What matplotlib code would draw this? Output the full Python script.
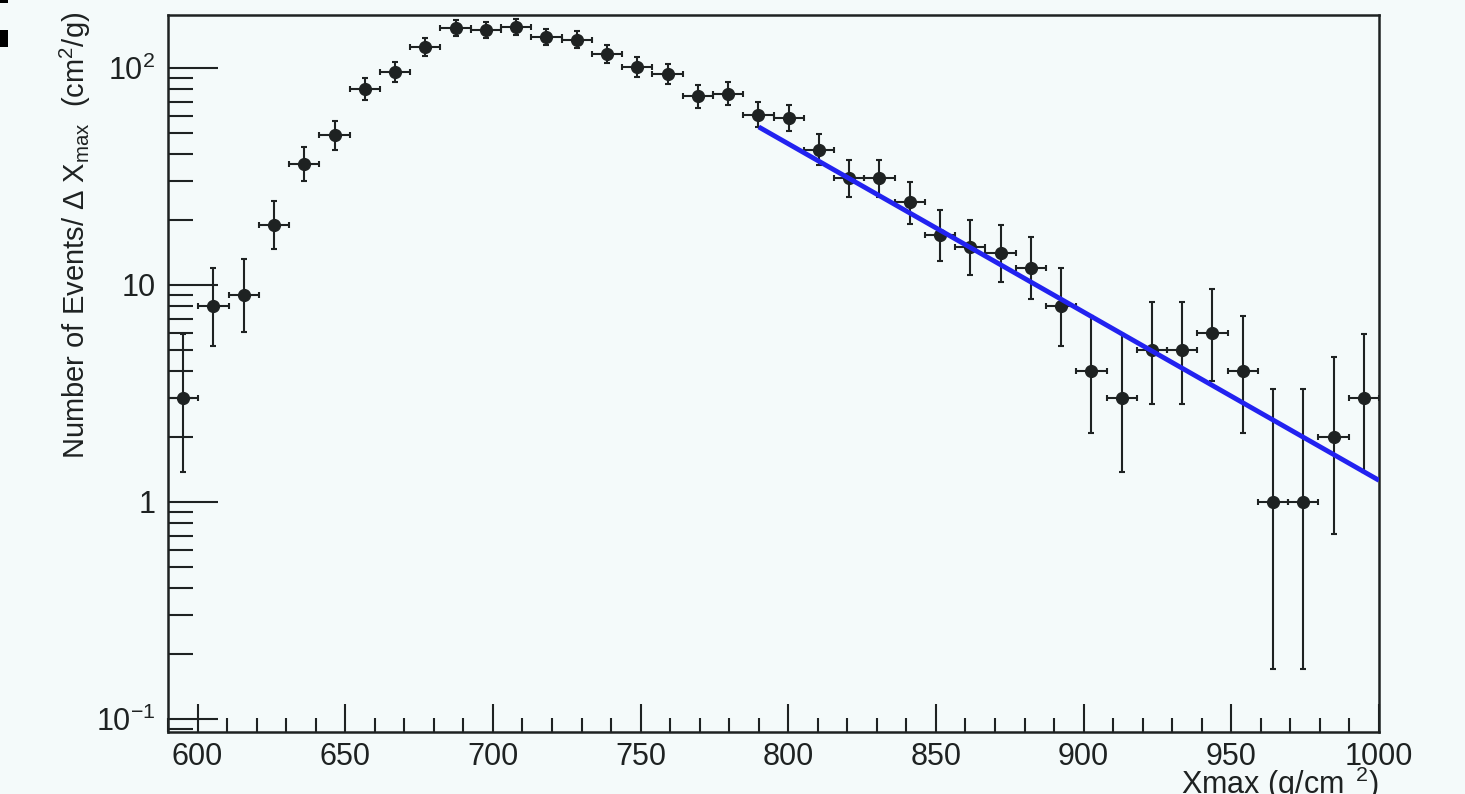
import matplotlib
matplotlib.use("Agg")
import matplotlib.pyplot as plt
from matplotlib.ticker import FixedLocator, FixedFormatter, MultipleLocator, NullFormatter
from matplotlib.patches import Rectangle
import numpy as np

plt.rcParams['font.family'] = ['Liberation Sans', 'DejaVu Sans']
plt.rcParams['mathtext.fontset'] = 'custom'
plt.rcParams['mathtext.rm'] = 'Liberation Sans'
plt.rcParams['mathtext.it'] = 'Liberation Sans:italic'
plt.rcParams['mathtext.sf'] = 'Liberation Sans'

# histogram: 40 bins from 590 to 1000 g/cm2
x_min, x_max, n_bins = 590.0, 1000.0, 40
counts = [3, 8, 9, 19, 36, 49, 80, 96, 125, 153,
          150, 154, 139, 135, 116, 101, 94, 74, 76, 61,
          59, 42, 31, 31, 24, 17, 15, 14, 12, 8,
          4, 3, 5, 5, 6, 4, 1, 1, 2, 3]
# asymmetric (Poisson) interval edges as drawn
band_lo = [1.37, 5.23, 6.06, 14.67, 30.02, 42.02, 71.07, 86.19, 113.83, 140.64,
           137.76, 141.60, 127.22, 123.39, 105.24, 90.96, 84.32, 65.41, 67.30, 53.21,
           51.33, 35.54, 25.45, 25.45, 19.13, 12.91, 11.16, 10.29, 8.58, 5.23,
           2.09, 1.37, 2.84, 2.84, 3.62, 2.09, 0.17, 0.17, 0.71, 1.37]
band_hi = [5.92, 11.94, 13.11, 24.44, 43.06, 57.05, 89.99, 106.84, 137.21, 166.40,
           163.28, 167.44, 151.82, 147.65, 127.81, 112.09, 104.73, 83.65, 85.76, 69.86,
           67.73, 49.54, 37.63, 37.63, 29.97, 22.21, 19.97, 18.84, 16.57, 11.94,
           7.16, 5.92, 8.38, 8.38, 9.58, 7.16, 3.30, 3.30, 4.64, 5.92]

# exponential tail fit
fit_start, fit_end = 790.0, 1000.0
fit_norm = 53.5      # value at fit_start
fit_lambda = 56.0    # g/cm2

y_ticks = [0.1, 1, 10, 100]
y_tick_labels = [r'$\mathregular{10^{-1}}$', '1', '10', r'$\mathregular{10^{2}}$']

bg = '#f4fafa'
ink = '#1e2222'

fig = plt.figure(figsize=(14.65, 7.94), dpi=100, facecolor=bg)
ax = fig.add_axes([168/1465, 62/794, 1211/1465, 717/794], facecolor=bg)

width = (x_max - x_min) / n_bins
centers = x_min + width * (np.arange(n_bins) + 0.5)
cnt = np.array(counts, dtype=float)
yerr = [cnt - np.array(band_lo), np.array(band_hi) - cnt]

ax.errorbar(centers, cnt, xerr=width / 2, yerr=yerr, fmt='o', color=ink,
            ms=8.5, elinewidth=1.5, capsize=2.2, capthick=1.5, zorder=3)

xf = np.linspace(fit_start, fit_end, 200)
ax.plot(xf, fit_norm * np.exp(-(xf - fit_start) / fit_lambda),
        color='#2222f0', lw=3.5, zorder=4, solid_capstyle='butt')

ax.set_yscale('log')
ax.set_xlim(x_min, x_max)
ax.set_ylim(0.0871, 175.5)

ax.xaxis.set_major_locator(MultipleLocator(50))
ax.xaxis.set_minor_locator(MultipleLocator(10))
ax.yaxis.set_major_locator(FixedLocator(y_ticks))
ax.yaxis.set_major_formatter(FixedFormatter(y_tick_labels))
minors = [m * d for d in [0.01, 0.1, 1, 10, 100] for m in range(2, 10)]
ax.yaxis.set_minor_locator(FixedLocator(minors))
ax.yaxis.set_minor_formatter(NullFormatter())

ax.tick_params(axis='both', which='both', direction='in', colors=ink,
               top=False, right=False, labelsize=22, width=1.5)
ax.tick_params(axis='x', which='major', length=20, pad=7)
ax.tick_params(axis='x', which='minor', length=10)
ax.tick_params(axis='y', which='major', length=36, pad=9)
ax.tick_params(axis='y', which='minor', length=18)

for s in ax.spines.values():
    s.set_color(ink)
    s.set_linewidth(1.8)

ax.set_xlabel(r'Xmax (g/cm$^{\ \ 2}$)', fontsize=22, color=ink, loc='right')
ax.xaxis.label.set_va('baseline')
ax.xaxis.set_label_coords(1.0, -0.086)
ax.set_ylabel(r'Number of Events/ $\Delta$ X$_{\mathregular{max}}$  (cm$^{2}$/g)',
              fontsize=21, color=ink, loc='top')
ax.yaxis.set_label_coords(-0.062, 1.004)

# small dark marks at the top-left corner
fig.add_artist(Rectangle((0, 1 - 3/794), 8/1465, 3/794, transform=fig.transFigure,
                         color='black', lw=0))
fig.add_artist(Rectangle((0, 1 - 47/794), 8/1465, 17/794, transform=fig.transFigure,
                         color='black', lw=0))

fig.savefig('out.png', dpi=100, facecolor=bg)
